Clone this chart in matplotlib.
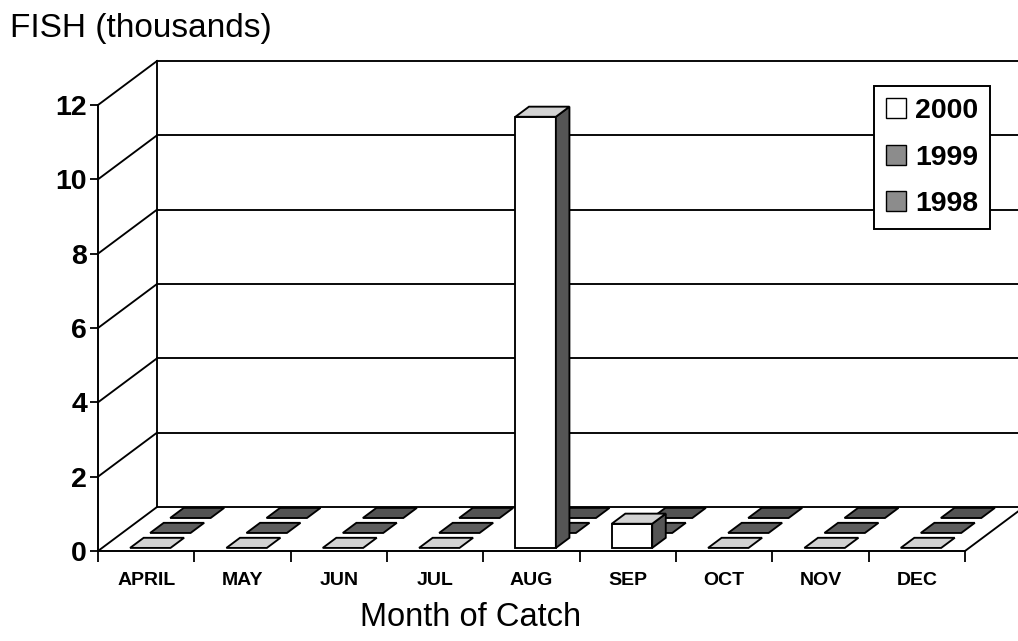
import matplotlib
matplotlib.use('Agg')
import matplotlib.pyplot as plt
from matplotlib.patches import Polygon, Patch

plt.rcParams['font.family'] = ['Liberation Sans', 'DejaVu Sans']

# ---------------- data ----------------
months = ['APRIL', 'MAY', 'JUN', 'JUL', 'AUG', 'SEP', 'OCT', 'NOV', 'DEC']
series_names = ['2000', '1999', '1998']
catch_2000 = [0, 0, 0, 0, 11.6, 0.65, 0, 0, 0]
catch_1999 = [0, 0, 0, 0, 0, 0, 0, 0, 0]
catch_1998 = [0, 0, 0, 0, 0, 0, 0, 0, 0]
y_ticks = [0, 2, 4, 6, 8, 10, 12]

# ---------------- styling ----------------
W, H = 1018, 641
front_col = {'2000': '#ffffff', '1999': '#8c8c8c', '1998': '#8c8c8c'}
top_col = {'2000': '#d2d2d2', '1999': '#5e5e5e', '1998': '#535353'}
side_col = {'2000': '#555555', '1999': '#444444', '1998': '#3c3c3c'}
depth_center = {'2000': 0.185, '1999': 0.525, '1998': 0.865}
half_depth = 0.115
bar_w = 0.42
LW = 1.35

fig = plt.figure(figsize=(W / 100, H / 100), dpi=100)
ax = fig.add_axes([98 / W, 90 / H, 867 / W, 446 / H])
ax.set_xlim(0, len(months))
ax.set_ylim(0, 12)
ax.patch.set_alpha(0)

# depth vector expressed in data units (oblique projection)
DX = 59 / (867 / len(months))
DY = 44 / (446 / 12)


def proj(x, v, d):
    return (x + d * DX, v + d * DY)


def seg(p, q, z=1):
    ax.plot([p[0], q[0]], [p[1], q[1]], color='black', lw=LW,
            clip_on=False, zorder=z, solid_capstyle='projecting')


n = len(months)
# back wall gridlines, left wall diagonals, floor
for v in y_ticks:
    seg(proj(0, v, 0), proj(0, v, 1))
    seg(proj(0, v, 1), proj(n, v, 1))
seg(proj(0, 0, 1), proj(0, 12, 1))
seg(proj(n, 0, 0), proj(n, 0, 1))

# bars
z = 5
data = {'2000': catch_2000, '1999': catch_1999, '1998': catch_1998}
for name in ['1998', '1999', '2000']:
    vals = data[name]
    d0 = depth_center[name] - half_depth
    d1 = depth_center[name] + half_depth
    for i, v in enumerate(vals):
        x0 = i + 0.5 - bar_w / 2
        x1 = i + 0.5 + bar_w / 2
        if v > 0:
            front = [proj(x0, 0, d0), proj(x1, 0, d0), proj(x1, v, d0), proj(x0, v, d0)]
            side = [proj(x1, 0, d0), proj(x1, 0, d1), proj(x1, v, d1), proj(x1, v, d0)]
            ax.add_patch(Polygon(front, closed=True, facecolor=front_col[name],
                                 edgecolor='black', lw=LW, clip_on=False, zorder=z))
            ax.add_patch(Polygon(side, closed=True, facecolor=side_col[name],
                                 edgecolor='black', lw=LW, clip_on=False, zorder=z))
        top = [proj(x0, v, d0), proj(x1, v, d0), proj(x1, v, d1), proj(x0, v, d1)]
        ax.add_patch(Polygon(top, closed=True, facecolor=top_col[name],
                             edgecolor='black', lw=LW, clip_on=False, zorder=z))
        z += 1

# axes, ticks
for s in ['top', 'right']:
    ax.spines[s].set_visible(False)
for s in ['left', 'bottom']:
    ax.spines[s].set_linewidth(1.4)
    ax.spines[s].set_zorder(50)

ax.set_yticks(y_ticks)
ax.set_yticklabels([str(t) for t in y_ticks], fontsize=20.5, fontweight='bold')
ax.tick_params(axis='y', length=6, width=1.3, pad=2)

ax.set_xticks(range(n + 1))
ax.set_xticklabels([])
ax.set_xticks([i + 0.5 for i in range(n)], minor=True)
ax.set_xticklabels(months, minor=True, fontsize=14, fontweight='bold')
ax.tick_params(axis='x', which='major', length=8, width=1.3, direction='out')
ax.tick_params(axis='x', which='minor', length=0, pad=15)

# titles
fig.text(10 / W, 1 - 28 / H, 'FISH (thousands)', fontsize=24, va='center', ha='left')
fig.text(471 / W, 1 - 617 / H, 'Month of Catch', fontsize=23.5, va='center', ha='center')

# legend
handles = [Patch(facecolor=front_col[s], edgecolor='black', lw=1.0) for s in series_names]
leg = ax.legend(handles, series_names, loc='upper right',
                bbox_to_anchor=(990 / W, 1 - 86 / H), bbox_transform=fig.transFigure,
                prop={'size': 20.5, 'weight': 'bold'}, handlelength=0.72, handleheight=0.72,
                handletextpad=0.3, labelspacing=0.72, borderpad=0.42,
                fancybox=False, edgecolor='black', framealpha=1, borderaxespad=0)
leg.get_frame().set_linewidth(1.4)
leg.set_zorder(100)

fig.savefig('out.png', dpi=100)
